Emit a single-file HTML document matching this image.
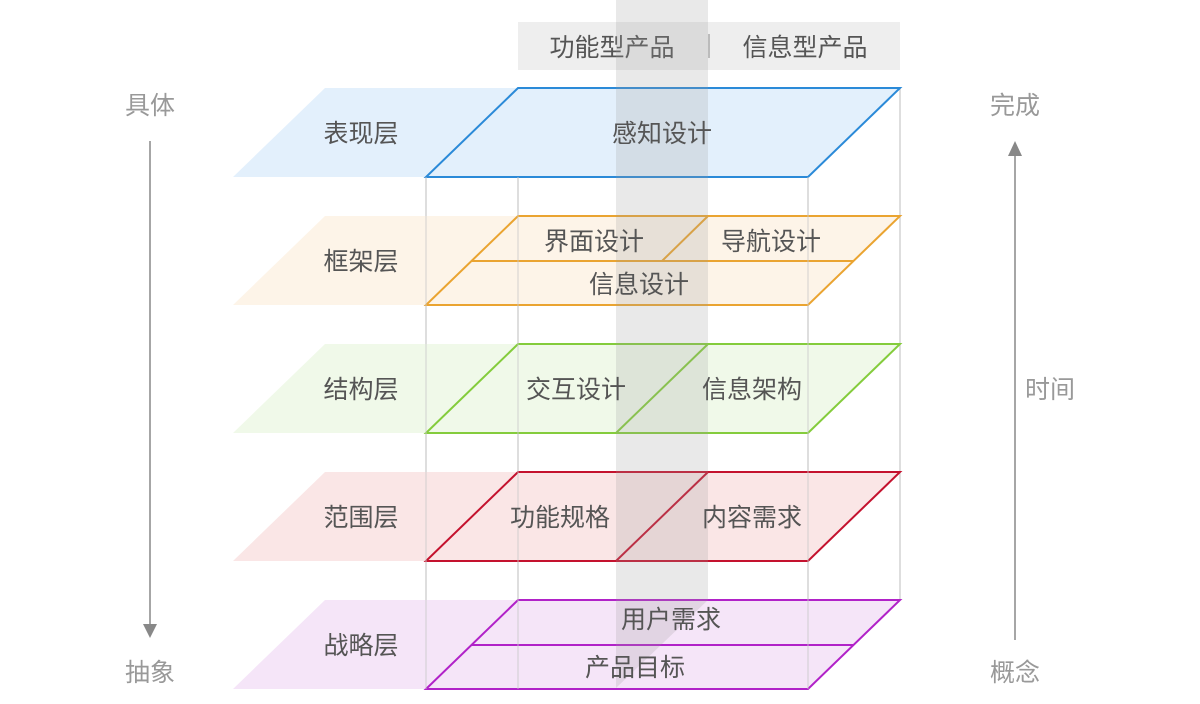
<!DOCTYPE html>
<html><head><meta charset="utf-8"><style>
html,body{margin:0;padding:0;background:#fff;}
svg{display:block;}
text{font-family:"Liberation Sans","Noto Sans CJK SC",sans-serif;font-size:25px;fill:#555;text-anchor:middle;}
.side{fill:#999;font-size:25px;}
</style></head><body>
<svg width="1200" height="704" viewBox="0 0 1200 704" xmlns="http://www.w3.org/2000/svg">
<rect x="518" y="22" width="382" height="48" fill="#eeeeee"/>
<line x1="709" y1="34" x2="709" y2="58" stroke="#aaa" stroke-width="1.5"/>
<text x="612" y="56">功能型产品</text>
<text x="805" y="56">信息型产品</text>

<g stroke="#c8c8c8" stroke-width="1.2">
<line x1="426" y1="177" x2="426" y2="689"/>
<line x1="518" y1="177" x2="518" y2="689"/>
<line x1="808" y1="177" x2="808" y2="689"/>
<line x1="900" y1="88" x2="900" y2="600"/>
</g>

<polygon points="325,88 900,88 808,177 233,177" fill="#e3f0fc"/>
<polygon points="518,88 900,88 808,177 426,177" fill="#e3f0fc" stroke="#2b8ad8" stroke-width="2"/>
<polygon points="325,216 900,216 808,305 233,305" fill="#fdf4e8"/>
<polygon points="518,216 900,216 808,305 426,305" fill="#fdf4e8" stroke="#eaa431" stroke-width="2"/>
<line x1="472" y1="261" x2="854" y2="261" stroke="#eaa431" stroke-width="2"/>
<line x1="708" y1="216" x2="662" y2="261" stroke="#eaa431" stroke-width="2"/>
<polygon points="325,344 900,344 808,433 233,433" fill="#f0f9e9"/>
<polygon points="518,344 900,344 808,433 426,433" fill="#f0f9e9" stroke="#84cc3c" stroke-width="2"/>
<line x1="708" y1="344" x2="616" y2="433" stroke="#84cc3c" stroke-width="2"/>
<polygon points="325,472 900,472 808,561 233,561" fill="#fae6e6"/>
<polygon points="518,472 900,472 808,561 426,561" fill="#fae6e6" stroke="#c4122e" stroke-width="2"/>
<line x1="708" y1="472" x2="616" y2="561" stroke="#c4122e" stroke-width="2"/>
<polygon points="325,600 900,600 808,689 233,689" fill="#f5e5f8"/>
<polygon points="518,600 900,600 808,689 426,689" fill="#f5e5f8" stroke="#b122c8" stroke-width="2"/>
<line x1="472" y1="645" x2="854" y2="645" stroke="#b122c8" stroke-width="2"/>

<g stroke="#c8c8c8" stroke-width="1" opacity="0.8">
<line x1="518" y1="177" x2="518" y2="689"/>
<line x1="426" y1="177" x2="426" y2="689"/>
<line x1="808" y1="177" x2="808" y2="689"/>
</g>

<polygon points="616,0 708,0 708,600 616,688" fill="#9a9a9a" opacity="0.22"/>

<text x="361" y="142">表现层</text>
<text x="361" y="270">框架层</text>
<text x="361" y="398">结构层</text>
<text x="361" y="526">范围层</text>
<text x="361" y="654">战略层</text>

<text x="662" y="142">感知设计</text>
<text x="594" y="250">界面设计</text>
<text x="771" y="250">导航设计</text>
<text x="639" y="293">信息设计</text>
<text x="576" y="398">交互设计</text>
<text x="752" y="398">信息架构</text>
<text x="560" y="526">功能规格</text>
<text x="752" y="526">内容需求</text>
<text x="671" y="628">用户需求</text>
<text x="635" y="676">产品目标</text>

<text class="side" x="150" y="114">具体</text>
<line x1="150" y1="141" x2="150" y2="626" stroke="#888" stroke-width="1.5"/>
<polygon points="143,624 157,624 150,638" fill="#888"/>
<text class="side" x="150" y="681">抽象</text>

<text class="side" x="1015" y="114">完成</text>
<line x1="1015" y1="154" x2="1015" y2="640" stroke="#888" stroke-width="1.5"/>
<polygon points="1008,156 1022,156 1015,141" fill="#888"/>
<text class="side" x="1050" y="398">时间</text>
<text class="side" x="1015" y="681">概念</text>
</svg>
</body></html>
